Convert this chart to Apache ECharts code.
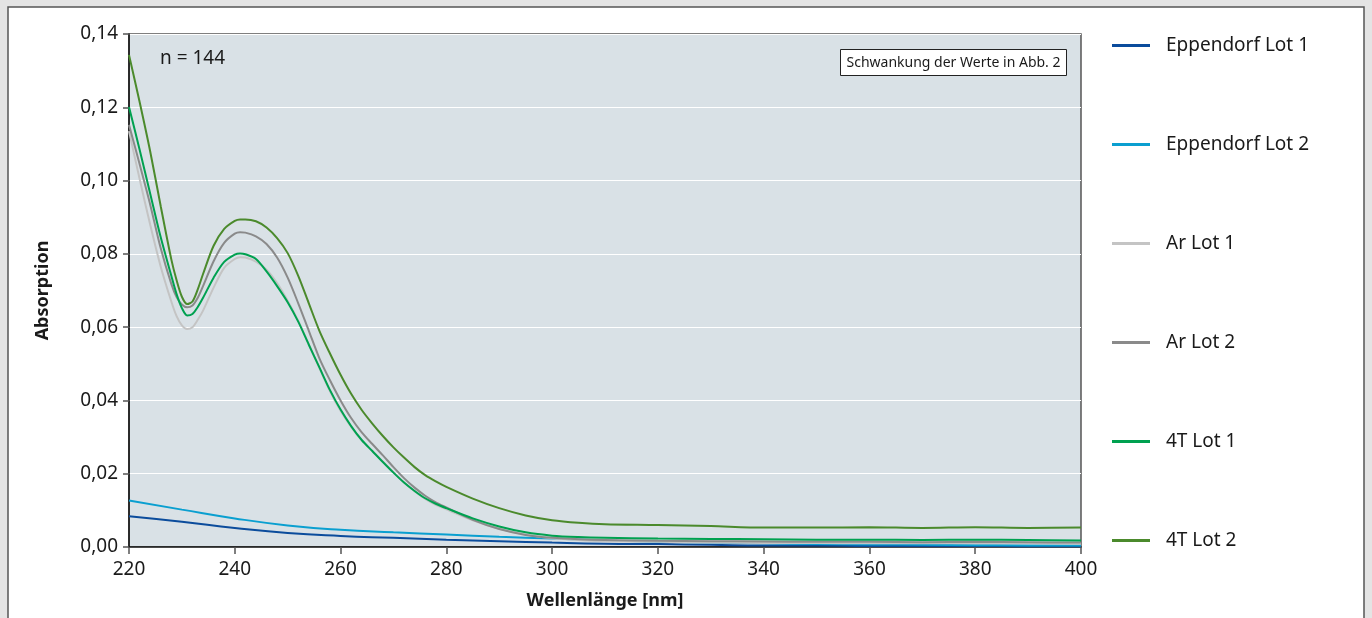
<!DOCTYPE html>
<html>
<head>
<meta charset="utf-8">
<script src="https://cdn.jsdelivr.net/npm/echarts@6/dist/echarts.min.js"></script>
<style>
html,body{margin:0;padding:0;background:#e4e4e4;}
#chart{width:1372px;height:618px;}
</style>
</head>
<body>
<div id="chart"></div>
<script>
// ---- Data ----
const wlFine = [220,222,224,226,228,229,230,231,232,233,234,236,238,240,241,242,244,246,248,250,252,254,256,258,260,262,264,266,268,270,272,274,276,278,280,285,290,295,300,305,310,320,330,340,350,360,370,380,390,400];
const wlCoarse = [220,230,240,250,260,270,280,290,300,310,320,330,340,350,360,370,380,390,400];

const eppLot1 = [0.0084,0.0069,0.0052,0.0038,0.0030,0.0025,0.0020,0.0016,0.0012,0.0009,0.0008,0.0006,0.0004,0.0004,0.0003,0.0003,0.0003,0.0002,0.0002];
const eppLot2 = [0.0127,0.0102,0.0078,0.0059,0.0047,0.0040,0.0034,0.0028,0.0023,0.0018,0.0014,0.0012,0.0010,0.0008,0.0007,0.0006,0.0005,0.0004,0.0004];

const arLot1 = [0.1135,0.1005,0.0880,0.0765,0.0670,0.0630,0.0605,0.0595,0.0600,0.0620,0.0645,0.0708,0.0762,0.0786,0.0791,0.0790,0.0779,0.0757,0.0720,0.0672,0.0617,0.0553,0.0488,0.0425,0.0372,0.0328,0.0291,0.0262,0.0233,0.0204,0.0176,0.0152,0.0131,0.0115,0.0103,0.0073,0.0050,0.0034,0.0024,0.0019,0.0016,0.0014,0.0012,0.0011,0.0011,0.0010,0.0010,0.0010,0.0010,0.0009];
const arLot2 = [0.1152,0.1045,0.0935,0.0815,0.0718,0.0682,0.0662,0.0654,0.0659,0.0680,0.0712,0.0780,0.0830,0.0855,0.0859,0.0858,0.0848,0.0827,0.0790,0.0735,0.0665,0.0590,0.0515,0.0455,0.0400,0.0352,0.0313,0.0281,0.0250,0.0218,0.0188,0.0162,0.0140,0.0122,0.0108,0.0074,0.0049,0.0033,0.0025,0.0021,0.0019,0.0017,0.0016,0.0015,0.0014,0.0014,0.0013,0.0014,0.0013,0.0012];
const t4Lot1 = [0.1201,0.1085,0.0965,0.0845,0.0740,0.0690,0.0652,0.0632,0.0636,0.0655,0.0680,0.0735,0.0778,0.0798,0.0801,0.0799,0.0786,0.0752,0.0712,0.0668,0.0615,0.0552,0.0490,0.0428,0.0375,0.0330,0.0292,0.0262,0.0232,0.0203,0.0176,0.0153,0.0133,0.0118,0.0106,0.0078,0.0056,0.0040,0.0031,0.0027,0.0025,0.0023,0.0022,0.0021,0.0020,0.0020,0.0019,0.0020,0.0019,0.0018];
const t4Lot2 = [0.1343,0.1215,0.1080,0.0930,0.0785,0.0728,0.0683,0.0663,0.0670,0.0703,0.0745,0.0822,0.0868,0.0890,0.0894,0.0894,0.0889,0.0872,0.0843,0.0802,0.0740,0.0665,0.0590,0.0528,0.0470,0.0418,0.0374,0.0337,0.0303,0.0272,0.0244,0.0218,0.0196,0.0179,0.0164,0.0132,0.0106,0.0086,0.0073,0.0066,0.0062,0.0060,0.0057,0.0053,0.0053,0.0054,0.0052,0.0054,0.0052,0.0053];

const seriesNames = ['Eppendorf Lot 1','Eppendorf Lot 2','Ar Lot 1','Ar Lot 2','4T Lot 1','4T Lot 2'];
const seriesColors = ['#0b4c9c','#0a9fd0','#c4c4c4','#8a8a8a','#00a150','#4b8a2c'];
const seriesX = [wlCoarse, wlCoarse, wlFine, wlFine, wlFine, wlFine];
const seriesY = [eppLot1, eppLot2, arLot1, arLot2, t4Lot1, t4Lot2];

const xMin = 220, xMax = 400, xStep = 20;
const yMin = 0, yMax = 0.14, yStep = 0.02;
const xTitle = 'Wellenlänge [nm]';
const yTitle = 'Absorption';
const noteN = 'n = 144';
const noteBox = 'Schwankung der Werte in Abb. 2';

// ---- Chart ----
const FONT = '"Noto Sans", "Open Sans", sans-serif';
const chart = echarts.init(document.getElementById('chart'), null, {renderer: 'canvas'});

const legendTops = [43, 142, 241, 340, 439, 538];
const legends = seriesNames.map((n, i) => ({
  show: true,
  orient: 'vertical',
  left: 1112,
  top: legendTops[i] - 7,
  padding: 0,
  data: [n],
  icon: 'rect',
  itemWidth: 38,
  itemHeight: 3,
  textStyle: {fontFamily: FONT, fontSize: 19, color: '#1a1a1a', padding: [0, 0, 0, 11]},
  selectedMode: false
}));

const option = {
  backgroundColor: '#e4e4e4',
  animation: false,
  textStyle: {fontFamily: FONT},
  graphic: [
    {type: 'rect', z: -10, shape: {x: 8, y: 7, width: 1356, height: 640},
     style: {fill: '#ffffff', stroke: '#555555', lineWidth: 1.5}},
    {type: 'text', z: 10, x: 160, y: 59,
     style: {text: noteN, fontFamily: FONT, fontSize: 19, fill: '#1a1a1a', verticalAlign: 'middle', align: 'left'}},
    {type: 'rect', z: 10, shape: {x: 840.5, y: 49.5, width: 226, height: 26},
     style: {fill: '#ffffff', stroke: '#222222', lineWidth: 1}},
    {type: 'text', z: 11, x: 953.5, y: 63,
     style: {text: noteBox, fontFamily: FONT, fontSize: 14, fill: '#1a1a1a', verticalAlign: 'middle', align: 'center'}}
  ],
  legend: legends,
  grid: {
    left: 129, top: 34, right: 291, bottom: 71,
    show: true, backgroundColor: '#d9e1e6', borderColor: '#555555', borderWidth: 1.5
  },
  xAxis: {
    type: 'value', min: xMin, max: xMax, interval: xStep,
    name: xTitle, nameLocation: 'middle', nameGap: 45,
    nameTextStyle: {fontFamily: FONT, fontSize: 18, fontWeight: 'bold', color: '#1a1a1a'},
    axisLine: {show: true, onZero: false, lineStyle: {color: '#111', width: 1.5}},
    axisTick: {show: true, length: 7, lineStyle: {color: '#555', width: 1.5}},
    axisLabel: {fontFamily: FONT, fontSize: 19, color: '#1a1a1a', margin: 13},
    splitLine: {show: false}
  },
  yAxis: {
    type: 'value', min: yMin, max: yMax, interval: yStep,
    name: yTitle, nameLocation: 'middle', nameGap: 77, nameRotate: 90,
    nameTextStyle: {fontFamily: FONT, fontSize: 18, fontWeight: 'bold', color: '#1a1a1a'},
    axisLine: {show: true, onZero: false, lineStyle: {color: '#111', width: 1.5}},
    axisTick: {show: true, length: 6, lineStyle: {color: '#555', width: 1.5}},
    axisLabel: {fontFamily: FONT, fontSize: 19, color: '#1a1a1a', margin: 11,
      formatter: v => v.toFixed(2).replace('.', ',')},
    splitLine: {show: true, lineStyle: {color: '#ffffff', width: 1.2}}
  },
  series: seriesNames.map((n, i) => ({
    name: n,
    type: 'line',
    data: seriesX[i].map((x, j) => [x, seriesY[i][j]]),
    smooth: i < 2 ? 0.5 : 0.3,
    showSymbol: false,
    symbol: 'none',
    lineStyle: {color: seriesColors[i], width: 2},
    itemStyle: {color: seriesColors[i]},
    z: 2 + i
  }))
};
chart.setOption(option);
</script>
</body>
</html>
